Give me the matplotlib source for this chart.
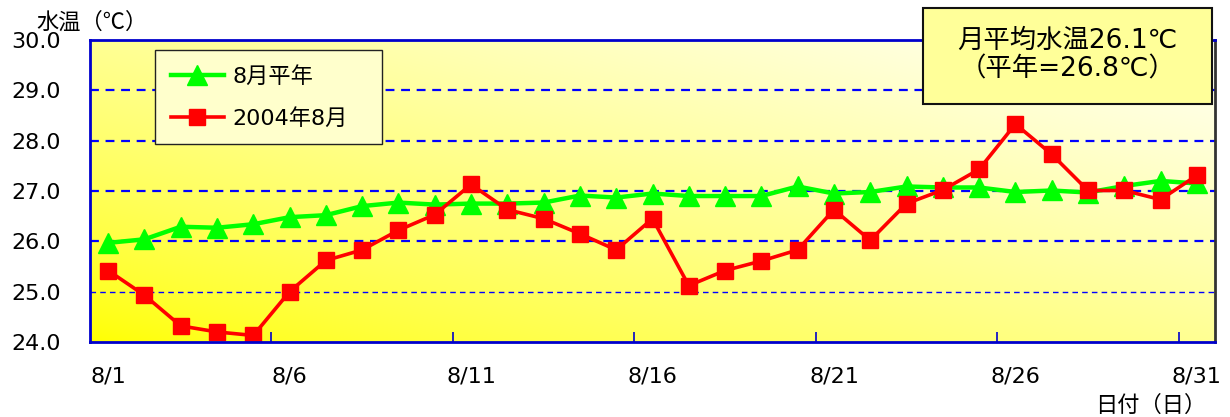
import numpy as np
import matplotlib
matplotlib.use("Agg")
import matplotlib.pyplot as plt
from matplotlib.patches import Rectangle

# ---- data ----
days = list(range(1, 32))
tick_labels = ["8/1", "8/6", "8/11", "8/16", "8/21", "8/26", "8/31"]
normal_aug = [25.97, 26.04, 26.29, 26.27, 26.34, 26.48, 26.52, 26.7, 26.77, 26.73,
              26.75, 26.75, 26.77, 26.91, 26.87, 26.95, 26.9, 26.9, 26.9, 27.09,
              26.95, 26.98, 27.09, 27.07, 27.07, 26.98, 27.01, 26.97, 27.1, 27.2, 27.15]
aug_2004 = [25.42, 24.93, 24.32, 24.2, 24.13, 25.0, 25.62, 25.83, 26.22, 26.53,
            27.13, 26.63, 26.45, 26.15, 25.83, 26.45, 25.12, 25.42, 25.61, 25.83,
            26.63, 26.02, 26.75, 27.02, 27.43, 28.33, 27.73, 27.01, 27.01, 26.83, 27.31]
yticks = [24.0, 25.0, 26.0, 27.0, 28.0, 29.0, 30.0]
legend_labels = ["8月平年", "2004年8月"]
box_text = "月平均水温26.1℃\n（平年=26.8℃）"

JP = ["Noto Sans CJK JP", "DejaVu Sans"]
NUM = ["DejaVu Sans", "Noto Sans CJK JP"]

W, H = 1230, 417
fig = plt.figure(figsize=(W / 100, H / 100), dpi=100)
L, R, T, B = 90, 1215, 40, 342
ax = fig.add_axes([L / W, 1 - B / H, (R - L) / W, (B - T) / H])

# gradient background
n = 200
X, Y = np.meshgrid(np.linspace(0, 1, n), np.linspace(0, 1, n))
t = (X + Y) / 2
img = np.zeros((n, n, 3))
img[..., 0] = 1.0
img[..., 1] = 1.0
img[..., 2] = 0.97 * t ** 0.75
ax.imshow(img, extent=(0, 1, 0, 1), transform=ax.transAxes, origin="lower",
          aspect="auto", zorder=0, interpolation="bilinear")

x = np.arange(len(days))
ax.plot(x, normal_aug, color="#00FF00", lw=3.2, marker="^", ms=14,
        mec="#00FF00", mfc="#00FF00", zorder=3, label=legend_labels[0])
ax.plot(x, aug_2004, color="#FF0000", lw=2.6, marker="s", ms=12,
        mec="#FF0000", mfc="#FF0000", zorder=4, label=legend_labels[1])

ax.set_xlim(-0.5, len(days) - 0.5)
ax.set_ylim(24, 30)
ax.set_yticks(yticks)
ax.set_yticklabels([f"{v:.1f}" for v in yticks], fontsize=16, family=NUM)
major = [days.index(int(s.split("/")[1])) for s in tick_labels]
ax.set_xticks(major)
ax.set_xticklabels(tick_labels, fontsize=16, family=NUM)
ax.set_xticks([m - 0.5 for m in major[1:]], minor=True)
ax.tick_params(axis="x", which="major", length=0, pad=18)
ax.tick_params(axis="x", which="minor", direction="in", length=7,
               width=1.2, color="#0000CC")
ax.tick_params(axis="y", length=0, pad=21)

ax.grid(axis="y", color="#0000FF", ls=(0, (4, 3)), lw=1.6, zorder=1)
for gl, v in zip(ax.get_ygridlines(), yticks):
    if v == 25.0:
        gl.set_linewidth(1.0)
    if v in (24.0, 30.0):
        gl.set_visible(False)

for s in ("left", "bottom", "top"):
    ax.spines[s].set_color("#0000CC")
    ax.spines[s].set_linewidth(2)
ax.spines["right"].set_color("#333333")
ax.spines["right"].set_linewidth(2)
for s in ax.spines.values():
    s.set_zorder(5)

leg = ax.legend(loc="upper left",
                bbox_to_anchor=((155 - L) / (R - L), (B - 50) / (B - T),
                                (382 - 155) / (R - L), 0.0),
                mode="expand", borderaxespad=0, prop={"family": NUM, "size": 16},
                fancybox=False, framealpha=1, facecolor="#FFFFCC",
                edgecolor="#222222", labelspacing=0.95, borderpad=0.7,
                handlelength=2.4, handletextpad=0.4)
leg.get_frame().set_linewidth(1.0)
leg.set_zorder(6)

# annotation box
bx0, by0, bx1, by1 = 923, 8, 1212, 104
fig.patches.append(Rectangle((bx0 / W, 1 - by1 / H), (bx1 - bx0) / W, (by1 - by0) / H,
                             transform=fig.transFigure, facecolor="#FFFF99",
                             edgecolor="#111111", lw=1.5, zorder=10))
fig.text((bx0 + bx1) / 2 / W, 1 - 55 / H, box_text, ha="center", va="center",
         fontsize=19, family=NUM, linespacing=1.15, zorder=11)

fig.text(36 / W, 1 - 22 / H, "水温（℃）", ha="left", va="center", fontsize=16, family=JP)
fig.text(1095 / W, 1 - 405 / H, "日付（日）", ha="left", va="center", fontsize=16, family=JP)

fig.savefig("out.png", dpi=100)
